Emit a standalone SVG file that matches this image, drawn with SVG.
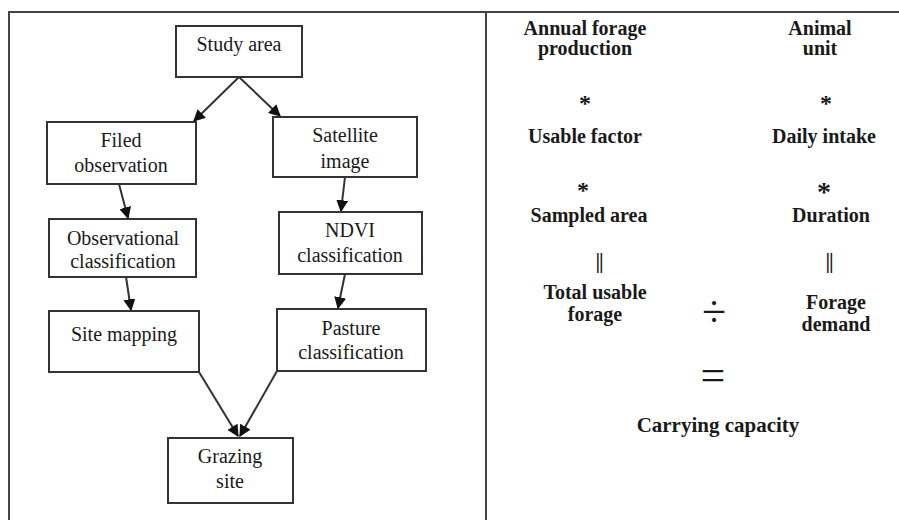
<svg xmlns="http://www.w3.org/2000/svg" width="899" height="520" viewBox="0 0 899 520">
<style>
.box{fill:#fff;stroke:#333;stroke-width:2}
text{font-family:'Liberation Serif',serif;fill:#1a1a1a;text-anchor:middle}
.t{font-size:20px}
.b{font-size:20px;font-weight:bold}
.c{stroke:#333;stroke-width:2;fill:none;marker-end:url(#ah)}
.frame{stroke:#444;stroke-width:2;fill:none}
</style>
<defs>
<marker id="ah" viewBox="0 0 10 10" refX="9" refY="5" markerWidth="6" markerHeight="6" markerUnits="strokeWidth" orient="auto">
<path d="M0,0 L10,5 L0,10 z" fill="#111"/>
</marker>
</defs>
<rect width="899" height="520" fill="#fff"/>
<g id="frame">
<path class="frame" d="M9,520 V12 H899"/>
<path class="frame" d="M486,12 V520"/>
</g>
<g id="connectors">
<line class="c" x1="239" y1="77" x2="194" y2="121"/>
<line class="c" x1="239" y1="77" x2="280" y2="116"/>
<line class="c" x1="119" y1="184" x2="128" y2="218"/>
<line class="c" x1="345" y1="177" x2="341" y2="211"/>
<line class="c" x1="126" y1="277" x2="131" y2="310"/>
<line class="c" x1="345" y1="274" x2="338" y2="308"/>
<line class="c" x1="199" y1="372" x2="238" y2="436"/>
<line class="c" x1="277" y1="371" x2="240" y2="436"/>
</g>
<g id="study-area"><rect class="box" x="176" y="26" width="126" height="51"/><text class="t" x="239" y="51">Study area</text></g>
<g id="filed-observation"><rect class="box" x="47" y="122" width="149" height="62"/><text class="t" x="121" y="147">Filed</text><text class="t" x="121" y="172">observation</text></g>
<g id="satellite-image"><rect class="box" x="273" y="117" width="144" height="60"/><text class="t" x="345" y="142">Satellite</text><text class="t" x="345" y="168">image</text></g>
<g id="observational-classification"><rect class="box" x="49" y="219" width="147" height="58"/><text class="t" x="123" y="245">Observational</text><text class="t" x="123" y="268">classification</text></g>
<g id="ndvi-classification"><rect class="box" x="279" y="212" width="143" height="62"/><text class="t" x="350" y="237">NDVI</text><text class="t" x="350" y="262">classification</text></g>
<g id="site-mapping"><rect class="box" x="49" y="311" width="150" height="61"/><text class="t" x="124" y="341">Site mapping</text></g>
<g id="pasture-classification"><rect class="box" x="277" y="309" width="149" height="62"/><text class="t" x="351" y="335">Pasture</text><text class="t" x="351" y="359">classification</text></g>
<g id="grazing-site"><rect class="box" x="168" y="438" width="125" height="65"/><text class="t" x="230" y="463">Grazing</text><text class="t" x="230" y="488">site</text></g>
<g id="formula">
<text class="b" x="585" y="35">Annual forage</text>
<text class="b" x="585" y="55">production</text>
<text class="b" x="820" y="35">Animal</text>
<text class="b" x="820" y="55">unit</text>
<text class="b" x="585" y="111" style="font-size:24px">*</text>
<text class="b" x="826" y="111" style="font-size:24px">*</text>
<text class="b" x="585" y="143">Usable factor</text>
<text class="b" x="824" y="143">Daily intake</text>
<text class="b" x="583" y="198" style="font-size:24px">*</text>
<text class="b" x="824" y="201" style="font-size:28px">*</text>
<text class="b" x="589" y="222">Sampled area</text>
<text class="b" x="831" y="222">Duration</text>
<text class="b" x="599" y="268" style="font-size:21px;letter-spacing:-1px">||</text>
<text class="b" x="829" y="268" style="font-size:21px;letter-spacing:-1px">||</text>
<text class="b" x="595" y="299">Total usable</text>
<text class="b" x="595" y="321">forage</text>
<text class="t" x="714" y="326" style="font-size:44px">÷</text>
<text class="b" x="836" y="309">Forage</text>
<text class="b" x="836" y="331">demand</text>
<text class="t" x="713" y="390" style="font-size:44px">=</text>
<text class="b" x="718" y="432" style="font-size:21px">Carrying capacity</text>
</g>
</svg>
